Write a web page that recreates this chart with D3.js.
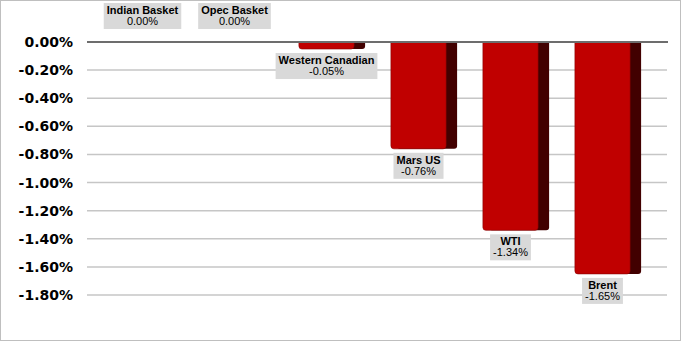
<!DOCTYPE html>
<html>
<head>
<meta charset="utf-8">
<script src="https://cdn.jsdelivr.net/npm/d3@7"></script>
<style>
  body { margin: 0; background: #fff; }
  svg { display: block; }
</style>
</head>
<body>
<div id="chart"></div>
<script>
// crude benchmarks, daily change
const categories = ['Indian Basket', 'Opec Basket', 'Western Canadian', 'Mars US', 'WTI', 'Brent'];
const changes = [0.00, 0.00, -0.05, -0.76, -1.34, -1.65];
const tickValues = [0, -0.2, -0.4, -0.6, -0.8, -1.0, -1.2, -1.4, -1.6, -1.8];

const width = 681;
const height = 341;

// plain hyphen instead of d3's unicode minus
const pct = d => d3.format('.2f')(d).replace('\u2212', '-') + '%';

const svg = d3.select('#chart').append('svg')
    .attr('width', width)
    .attr('height', height);

// outer chart border
svg.append('rect')
    .attr('x', 0.5).attr('y', 0.5)
    .attr('width', width - 1).attr('height', height - 1)
    .attr('fill', '#fff')
    .attr('stroke', '#bfbfbf');

const x = d3.scaleBand()
    .domain(categories)
    .range([96.5, 648.5])
    .paddingInner(0.4)
    .paddingOuter(0.2);

const y = d3.scaleLinear()
    .domain([0, -1.8])
    .range([42, 295]);

const gridLeft = 87, gridRight = 667;
const depth = 11;

// gridlines
svg.append('g')
    .selectAll('line')
    .data(tickValues.filter(d => d !== 0))
    .join('line')
    .attr('x1', gridLeft).attr('x2', gridRight)
    .attr('y1', d => y(d)).attr('y2', d => y(d))
    .attr('stroke', '#c6c6c6')
    .attr('stroke-width', 1.5);

// y axis labels
const yAxis = svg.append('g')
    .attr('transform', `translate(${gridLeft - 14},0)`)
    .call(d3.axisLeft(y).tickValues(tickValues).tickSize(0).tickPadding(0)
        .tickFormat(pct));
yAxis.select('.domain').remove();
yAxis.selectAll('text')
    .attr('font-family', 'DejaVu Sans, Verdana, sans-serif')
    .attr('font-weight', 'bold')
    .attr('font-size', 14)
    .attr('fill', '#000');

// bars: front face + dark side face
const bars = svg.append('g')
    .selectAll('g')
    .data(categories.map((c, i) => ({ name: c, value: changes[i] })))
    .join('g');

function barPath(x0, w, y0, y1, r) {
    const h = y1 - y0;
    if (h <= 0) return '';
    r = Math.min(r, h, w / 2);
    return `M${x0},${y0}H${x0 + w}V${y1 - r}Q${x0 + w},${y1} ${x0 + w - r},${y1}` +
        `H${x0 + r}Q${x0},${y1} ${x0},${y1 - r}Z`;
}

bars.append('path')
    .attr('d', d => barPath(x(d.name) + 6, x.bandwidth() - 6 + depth, y(0), y(d.value), 3))
    .attr('fill', '#420000');

bars.append('path')
    .attr('d', d => barPath(x(d.name), x.bandwidth(), y(0), y(d.value), 3))
    .attr('fill', '#c00000');

bars.append('path')
    .attr('d', d => barPath(x(d.name), x.bandwidth(), y(0), y(d.value), 3))
    .attr('fill', 'none')
    .attr('stroke', '#8a0000')
    .attr('stroke-width', 0.6)
    .attr('opacity', d => d.value < 0 ? 1 : 0);

// zero line
svg.append('line')
    .attr('x1', gridLeft).attr('x2', gridRight + 1)
    .attr('y1', y(0)).attr('y2', y(0))
    .attr('stroke', '#6d6d6d')
    .attr('stroke-width', 2);

// data labels with grey boxes
const labels = svg.append('g')
    .selectAll('g')
    .data(categories.map((c, i) => ({ name: c, value: changes[i] })))
    .join('g');

labels.each(function (d) {
    const g = d3.select(this);
    const cx = x(d.name) + x.bandwidth() / 2;
    const boxH = 26;
    const top = d.value === 0 ? y(0) - 13 - boxH : y(d.value) + 4;
    const rect = g.append('rect').attr('fill', '#d9d9d9');
    const t1 = g.append('text')
        .attr('x', cx).attr('y', top + 11)
        .attr('text-anchor', 'middle')
        .attr('font-family', 'Liberation Sans, Arial, sans-serif')
        .attr('font-weight', 'bold')
        .attr('font-size', 11)
        .text(d.name);
    const t2 = g.append('text')
        .attr('x', cx).attr('y', top + 22)
        .attr('text-anchor', 'middle')
        .attr('font-family', 'Liberation Sans, Arial, sans-serif')
        .attr('font-size', 11)
        .text(pct(d.value));
    const w = Math.max(t1.node().getComputedTextLength(), t2.node().getComputedTextLength()) + 6;
    rect.attr('x', cx - w / 2).attr('y', top)
        .attr('width', w).attr('height', boxH);
});
</script>
</body>
</html>
